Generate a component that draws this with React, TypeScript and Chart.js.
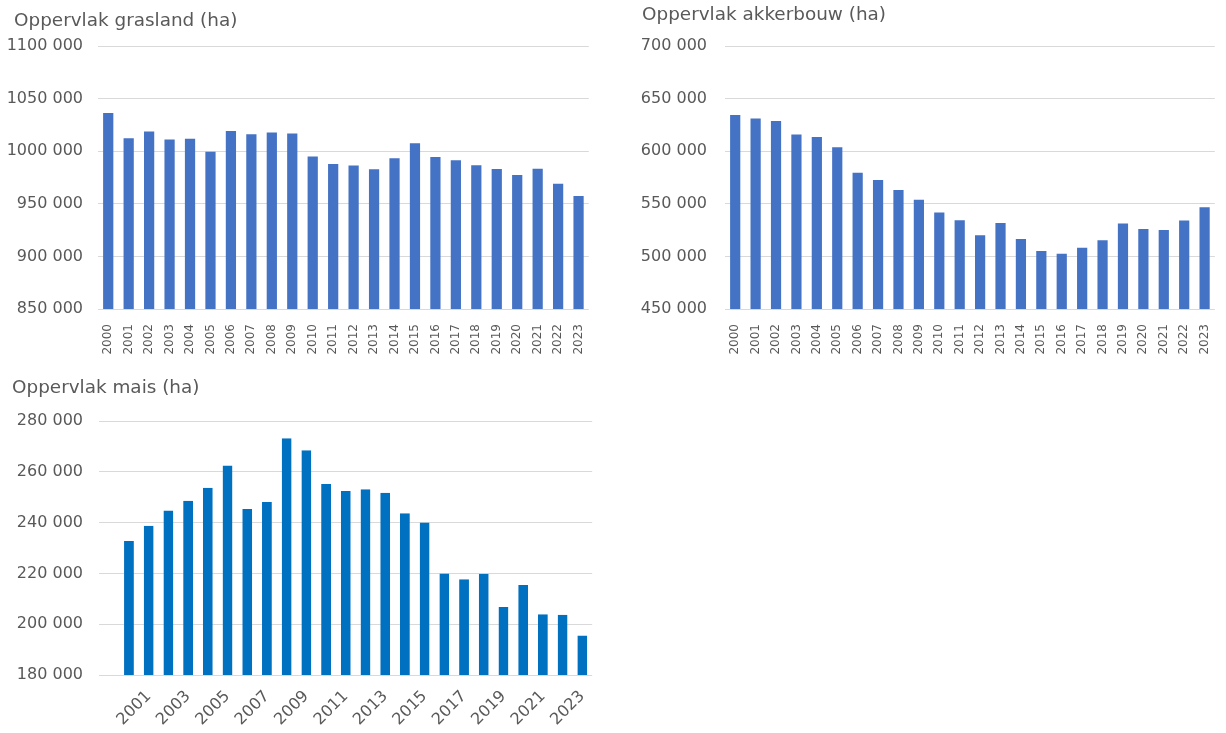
import React, { useEffect, useRef } from 'react';
import { Chart, registerables } from 'chart.js';

Chart.register(...registerables);

const years = ['2000', '2001', '2002', '2003', '2004', '2005', '2006', '2007', '2008', '2009', '2010', '2011', '2012', '2013', '2014', '2015', '2016', '2017', '2018', '2019', '2020', '2021', '2022', '2023'];
const grasland = [1036300, 1012400, 1018800, 1011100, 1011800, 999400, 1019100, 1016200, 1017800, 1016900, 994900, 987900, 986300, 982800, 993300, 1007600, 994600, 991400, 986600, 983100, 977400, 983400, 969100, 957300];
const akkerbouw = [634400, 631200, 628700, 615900, 613400, 603800, 579600, 572600, 563100, 553800, 541700, 534400, 520100, 531800, 516600, 505100, 502500, 508300, 515300, 531200, 526100, 525200, 534100, 546800];
const maisLabels = ['', ...years];
const mais = [null, 232800, 238800, 244800, 248600, 253700, 262500, 245400, 248100, 273200, 268500, 255200, 252400, 253100, 251800, 243700, 240000, 220000, 217650, 219900, 206800, 215400, 203900, 203700, 195600];

const titles = ['Oppervlak grasland (ha)', 'Oppervlak akkerbouw (ha)', 'Oppervlak mais (ha)'];

const FONT = "'DejaVu Sans', Verdana, sans-serif";
const TEXT = '#595959';
const GRID = '#d9d9d9';

function fmt(v: number): string {
  const k = Math.floor(v / 1000);
  const r = Math.round(v - k * 1000);
  return `${k} ${String(r).padStart(3, '0')}`;
}

type Spec = {
  left: number; top: number; width: number; height: number;
  padTop: number; padRight: number;
  title: string; titleX: number; titleY: number;
  yWidth: number; yPad: number; xHeight: number;
  labels: string[]; data: (number | null)[];
  color: string; border: string; bottomBorder: number;
  min: number; max: number; step: number;
  xFont: number; xRot: number; xPad: number; everyOther: boolean;
};

const specs: Spec[] = [
  {
    left: 0, top: 0, width: 600, height: 365, padTop: 46, padRight: 2,
    title: titles[0], titleX: 14, titleY: 8.8, yWidth: 98, yPad: 15, xHeight: 56,
    labels: years, data: grasland, color: '#4472C4', border: '#8FAADC', bottomBorder: 0,
    min: 850000, max: 1100000, step: 50000, xFont: 12, xRot: 90, xPad: 7, everyOther: false,
  },
  {
    left: 610, top: 0, width: 616, height: 365, padTop: 46, padRight: 0,
    title: titles[1], titleX: 642, titleY: 3.3, yWidth: 115, yPad: 18, xHeight: 56,
    labels: years, data: akkerbouw, color: '#4472C4', border: '#8FAADC', bottomBorder: 0,
    min: 450000, max: 700000, step: 50000, xFont: 12, xRot: 90, xPad: 7, everyOther: false,
  },
  {
    left: 0, top: 370, width: 600, height: 363, padTop: 51, padRight: 5.8,
    title: titles[2], titleX: 12, titleY: 375.6, yWidth: 99.4, yPad: 16.4, xHeight: 58,
    labels: maisLabels, data: mais, color: '#0070C0', border: '#9DC3E6', bottomBorder: 3,
    min: 180000, max: 280000, step: 20000, xFont: 16, xRot: 45, xPad: 4, everyOther: true,
  },
];

function BarPanel({ spec }: { spec: Spec }) {
  const ref = useRef<HTMLCanvasElement | null>(null);
  useEffect(() => {
    if (!ref.current) return;
    const s = spec;
    const chart = new Chart(ref.current, {
      type: 'bar',
      data: {
        labels: s.labels,
        datasets: [{
          data: s.data as any,
          backgroundColor: s.color,
          borderColor: s.border,
          borderWidth: s.bottomBorder ? { top: 0, left: 0, right: 0, bottom: s.bottomBorder } : 0,
          borderSkipped: s.bottomBorder ? false : 'start',
          barPercentage: 0.5,
          categoryPercentage: 1,
        }],
      },
      options: {
        responsive: false,
        animation: false,
        devicePixelRatio: 1,
        layout: { padding: { left: 0, right: s.padRight, top: s.padTop, bottom: 0 } },
        plugins: {
          legend: { display: false },
          tooltip: { enabled: false },
          title: { display: false },
        },
        scales: {
          x: {
            grid: { display: false },
            border: { display: false },
            afterFit: (sc: any) => { sc.height = s.xHeight; },
            ticks: {
              color: TEXT,
              font: { family: FONT, size: s.xFont },
              autoSkip: false,
              maxRotation: s.xRot,
              minRotation: s.xRot,
              padding: s.xPad,
              callback: (_v: any, i: number) => (s.everyOther ? (i % 2 === 0 ? s.labels[i] : '') : s.labels[i]),
            },
          },
          y: {
            min: s.min,
            max: s.max,
            afterFit: (sc: any) => { sc.width = s.yWidth; },
            border: { display: false },
            grid: { color: GRID, lineWidth: 1, drawTicks: false },
            ticks: {
              stepSize: s.step,
              color: TEXT,
              font: { family: FONT, size: 16 },
              padding: s.yPad,
              callback: (v: any) => fmt(Number(v)),
            },
          },
        },
      },
    });
    return () => chart.destroy();
  }, [spec]);
  return (
    <>
      <canvas
        ref={ref}
        width={spec.width}
        height={spec.height}
        style={{ position: 'absolute', left: spec.left, top: spec.top, width: spec.width, height: spec.height }}
      />
      <div
        style={{
          position: 'absolute', left: spec.titleX, top: spec.titleY, whiteSpace: 'nowrap',
          fontFamily: FONT, fontSize: 18.4, lineHeight: '22px', color: TEXT,
        }}
      >
        {spec.title}
      </div>
    </>
  );
}

export default function App() {
  useEffect(() => {
    document.body.style.margin = '0';
    document.body.style.background = '#ffffff';
  }, []);
  return (
    <div style={{ position: 'relative', width: 1226, height: 733, background: '#ffffff', overflow: 'hidden' }}>
      {specs.map((s, i) => <BarPanel key={i} spec={s} />)}
    </div>
  );
}
